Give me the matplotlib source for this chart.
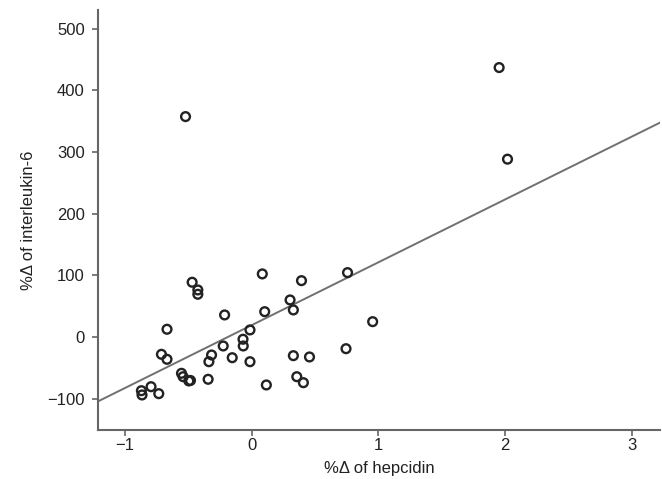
import matplotlib
matplotlib.use("Agg")
import matplotlib.pyplot as plt
import numpy as np

hepcidin = [-0.868, -0.863, -0.792, -0.731, -0.666, -0.710, -0.666, -0.552, -0.539, -0.494,
            -0.481, -0.468, -0.423, -0.423, -0.336, -0.315, -0.342, -0.212, -0.223, -0.152,
            -0.067, -0.065, -0.012, -0.012, 0.085, 0.104, 0.117, 0.304, 0.330, 0.394,
            0.330, 0.357, 0.409, 0.457, 0.757, 0.745, 0.955, -0.520, 1.952, 2.018]
il6 = [-87.1, -94.0, -80.6, -91.9, 12.5, -28.1, -36.2, -58.9, -64.4, -71.3,
       -70.5, 88.7, 76.2, 69.2, -40.1, -29.2, -68.6, 35.7, -14.6, -33.6,
       -3.7, -14.6, 11.4, -40.1, 102.2, 41.0, -77.8, 60.0, 43.8, 91.3,
       -30.3, -64.4, -74.1, -32.4, 104.3, -19.0, 24.8, 357.2, 436.7, 288.2]
fit_intercept = 19.0
fit_slope = 102.0

xticks = [-1, 0, 1, 2, 3]
yticks = [-100, 0, 100, 200, 300, 400, 500]
xlim = (-1.21, 3.22)
ylim = (-150.8, 530)

plt.rcParams['font.family'] = ['Liberation Sans', 'DejaVu Sans']

fig = plt.figure(figsize=(6.62, 4.79), dpi=100)
ax = fig.add_axes([98/662, 49/479, 562/662, 420/479])

xl = np.array(xlim)
ax.plot(xl, fit_intercept + fit_slope * xl, color='#707070', lw=1.4, zorder=1)
ax.scatter(hepcidin, il6, s=40, facecolors='none', edgecolors='#222222', linewidths=1.7, zorder=2)

ax.set_xlim(*xlim)
ax.set_ylim(*ylim)
ax.set_xticks(xticks)
ax.set_xticklabels(['\u22121', '0', '1', '2', '3'])
ax.set_yticks(yticks)
ax.set_yticklabels(['\u2212100', '0', '100', '200', '300', '400', '500'])
for s in ['top', 'right']:
    ax.spines[s].set_visible(False)
for s in ['left', 'bottom']:
    ax.spines[s].set_color('#666666')
    ax.spines[s].set_linewidth(1.5)
ax.tick_params(direction='out', length=4, width=1.2, color='#666666', labelsize=12, labelcolor='#222222')
ax.tick_params(axis='x', pad=1.5)
ax.tick_params(axis='y', pad=5.5)
ax.set_xlabel('%\u0394 of hepcidin', fontsize=12, color='#222222', labelpad=6)
ax.set_ylabel('%\u0394 of interleukin-6', fontsize=12, color='#222222', labelpad=8)

fig.savefig('out.png', dpi=100)
